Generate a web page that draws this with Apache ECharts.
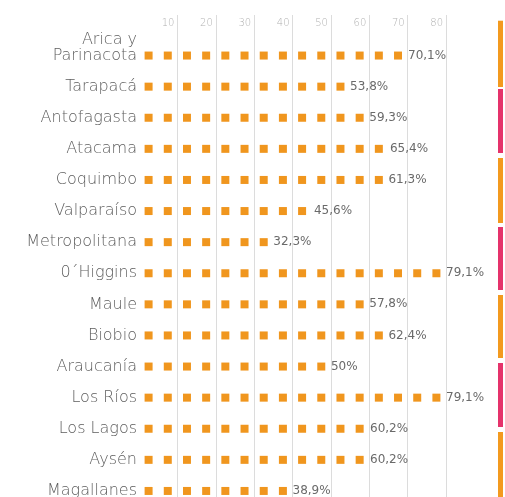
<!DOCTYPE html>
<html>
<head>
<meta charset="utf-8">
<script src="https://cdn.jsdelivr.net/npm/echarts@6/dist/echarts.min.js"></script>
<style>
  html, body { margin: 0; padding: 0; background: #fff; }
  #chart { width: 505px; height: 497px; }
</style>
</head>
<body>
<div id="chart"></div>
<script>
// regiones y porcentaje
const regions = ['Arica y\nParinacota', 'Tarapacá', 'Antofagasta', 'Atacama', 'Coquimbo', 'Valparaíso',
  'Metropolitana', '0´Higgins', 'Maule', 'Biobio', 'Araucanía', 'Los Ríos', 'Los Lagos', 'Aysén', 'Magallanes']
const values = [70.1, 53.8, 59.3, 65.4, 61.3, 45.6, 32.3, 79.1, 57.8, 62.4, 50, 79.1, 60.2, 60.2, 38.9]
// cuadraditos contados en la imagen (1 = 5%)
const squares = [14, 11, 12, 13, 13, 9, 7, 16, 12, 13, 10, 16, 12, 12, 8]
const xTicks = [0, 10, 20, 30, 40, 50, 60, 70, 80]

// barras de color del borde derecho (px)
const segStart = [20.7, 89, 158, 227, 295, 363, 432]
const segEnd = [87, 153, 223, 290, 358, 427, 500]
const segColor = ['#F39A1F', '#E5336B', '#F39A1F', '#E5336B', '#F39A1F', '#E5336B', '#F39A1F']

const orange = '#F0961E'
const font = 'DejaVu Sans'
const labelColor = '#5e5e5e'

let chart = echarts.init(document.getElementById('chart'), null, {renderer: 'canvas'})

let option = {
  animation: false,
  backgroundColor: '#fff',
  grid: [
    {left: 139, right: 59, top: 15, bottom: 0, outerBoundsMode: 'none', containLabel: false},
    {left: 139, right: 59, top: 40, height: 466.5, outerBoundsMode: 'none', containLabel: false},
    {left: 498, width: 5, top: 0, height: 497, outerBoundsMode: 'none', containLabel: false}
  ],
  xAxis: [
    {
      gridIndex: 0,
      type: 'value',
      position: 'top',
      min: xTicks[0],
      max: xTicks[xTicks.length - 1],
      interval: 10,
      axisLine: {show: false},
      axisTick: {show: false},
      axisLabel: {
        inside: true,
        margin: 3,
        align: 'right',
        verticalAlign: 'top',
        padding: [0, 3, 0, 0],
        color: '#b0b0b0',
        fontFamily: font,
        fontWeight: 300,
        fontSize: 10,
        formatter: function (v) {
          return v === 0 ? '' : String(v)
        }
      },
      splitLine: {
        show: true,
        lineStyle: {
          width: 1,
          color: xTicks.map(function (t) { return t === 0 ? 'rgba(0,0,0,0)' : '#dcdcdc' })
        }
      }
    },
    {
      gridIndex: 1,
      type: 'value',
      min: xTicks[0],
      max: xTicks[xTicks.length - 1],
      show: false
    },
    {gridIndex: 2, type: 'value', min: 0, max: 1, show: false}
  ],
  yAxis: [
    {gridIndex: 0, type: 'value', show: false},
    {
      gridIndex: 1,
      type: 'category',
      inverse: true,
      data: regions,
      axisLine: {show: false},
      axisTick: {show: false},
      splitLine: {show: false},
      axisLabel: {
        interval: 0,
        hideOverlap: false,
        margin: 2,
        color: labelColor,
        fontFamily: font,
        fontWeight: 300,
        fontSize: 16,
        // la etiqueta de dos lineas sube, la segunda linea queda en la fila
        formatter: function (v) {
          if (v.indexOf('\n') < 0) {
            return v
          }
          return v.split('\n').map(function (s) { return '{t|' + s + '}' }).join('\n') + '\n{s| }'
        },
        rich: {
          t: {fontFamily: font, fontWeight: 300, fontSize: 16, color: labelColor, lineHeight: 16},
          s: {fontSize: 10, lineHeight: 16}
        }
      }
    },
    {gridIndex: 2, type: 'value', inverse: true, min: 0, max: 497, show: false}
  ],
  series: [
    {
      type: 'pictorialBar',
      xAxisIndex: 1,
      yAxisIndex: 1,
      symbol: 'rect',
      symbolSize: [8, 8],
      symbolMargin: '5!',
      symbolPosition: 'start',
      itemStyle: {color: orange},
      label: {
        show: true,
        position: 'right',
        distance: 0,
        color: '#6a6a6a',
        fontFamily: font,
        fontSize: 12,
        formatter: function (p) {
          return String(p.value).replace('.', ',') + '%'
        }
      },
      data: values.map(function (v, i) {
        return {value: v, symbolRepeat: squares[i], symbolBoundingData: squares[i] * 5}
      })
    },
    {
      type: 'custom',
      xAxisIndex: 2,
      yAxisIndex: 2,
      data: segStart.map(function (s, i) { return [s, segEnd[i], i] }),
      renderItem: function (params, api) {
        let p0 = api.coord([0, api.value(0)])
        let p1 = api.coord([1, api.value(1)])
        return {
          type: 'rect',
          shape: {x: p0[0], y: p0[1], width: p1[0] - p0[0], height: p1[1] - p0[1]},
          style: {fill: segColor[api.value(2)]}
        }
      }
    }
  ]
}

chart.setOption(option)
</script>
</body>
</html>
